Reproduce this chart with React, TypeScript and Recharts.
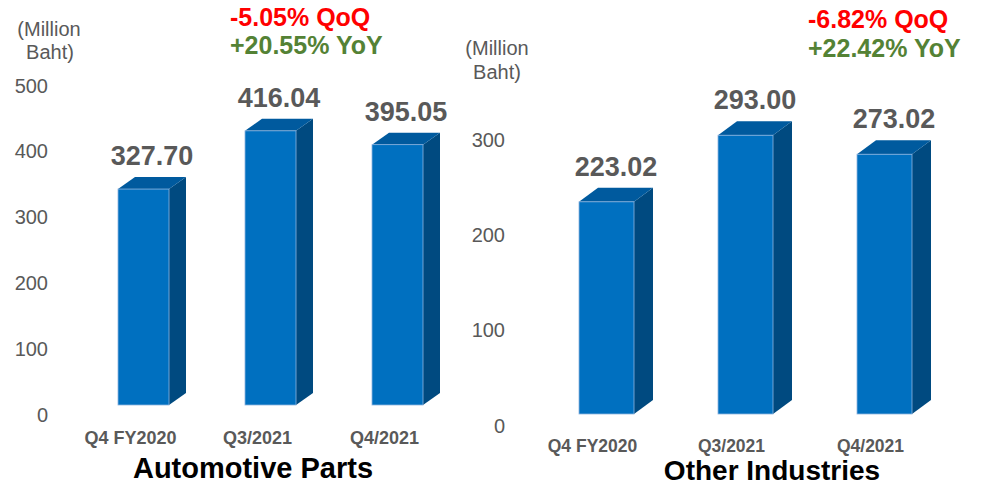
import { BarChart, Bar, XAxis, YAxis, LabelList } from "recharts";

// quarters shown on both panels
const quarters = ["Q4 FY2020", "Q3/2021", "Q4/2021"];
const automotiveParts = [327.7, 416.04, 395.05];
const otherIndustries = [223.02, 293.0, 273.02];
const autoTicks = [0, 100, 200, 300, 400, 500];
const otherTicks = [0, 100, 200, 300];

const autoData = quarters.map((q, i) => ({ quarter: q, value: automotiveParts[i] }));
const otherData = quarters.map((q, i) => ({ quarter: q, value: otherIndustries[i] }));

const FONT = '"Liberation Sans", Arial, Helvetica, sans-serif';
const GREY = "#595959";

const Box3D = (props: any) => {
    const { x, y, width, height, depth, rise } = props;
    if (!height || height <= 0) return null;
    const r = x + width;
    return (
        <g>
            {/* side */}
            <path
                d={`M${r},${y} L${r + depth},${y - rise} L${r + depth},${y + height - rise} L${r},${y + height} Z`}
                fill="#004a80"
            />
            {/* top */}
            <path
                d={`M${x},${y} L${x + depth},${y - rise} L${r + depth},${y - rise} L${r},${y} Z`}
                fill="#005a9e"
            />
            <rect x={x} y={y} width={width} height={height} fill="#0070c0" stroke="#8db3df" strokeWidth={0.8} />
        </g>
    );
};

interface PanelProps {
    data: any[];
    width: number;
    margin: { top: number; right: number; bottom: number; left: number };
    yWidth: number;
    domain: [number, number];
    ticks: number[];
    barSize: number;
    depth: number;
    rise: number;
    yTickShift: number;
    xTickShift: number;
    xTickDy: number;
    xTickSize: number;
}

function Panel({ data, width, margin, yWidth, domain, ticks, barSize, depth, rise, yTickShift, xTickShift, xTickDy, xTickSize }: PanelProps) {
    const YTick = ({ x, y, payload }: any) => (
        <text x={x} y={y + yTickShift} textAnchor="end" dominantBaseline="central" fontSize={20} fill={GREY} fontFamily={FONT}>
            {payload.value}
        </text>
    );
    const XTick = ({ x, y, payload }: any) => (
        <text x={x + xTickShift} y={y + xTickDy} textAnchor="middle" dominantBaseline="central" fontSize={xTickSize} fontWeight="bold" fill={GREY} fontFamily={FONT}>
            {payload.value}
        </text>
    );
    const ValueLabel = ({ x, y, width: w, value }: any) => (
        <text x={x + (w + depth) / 2} y={y - rise - 12} textAnchor="middle" fontSize={27} fontWeight="bold" fill={GREY} fontFamily={FONT}>
            {Number(value).toFixed(2)}
        </text>
    );

    return (
        <BarChart width={width} height={486} data={data} margin={margin}>
            <XAxis dataKey="quarter" axisLine={false} tickLine={false} height={30} tick={<XTick />} interval={0} />
            <YAxis
                width={yWidth}
                domain={domain}
                ticks={ticks}
                axisLine={false}
                tickLine={false}
                tickMargin={26}
                tick={<YTick />}
                interval={0}
            />
            <Bar
                dataKey="value"
                barSize={barSize}
                isAnimationActive={false}
                shape={(p: any) => <Box3D {...p} depth={depth} rise={rise} />}
            >
                <LabelList dataKey="value" content={<ValueLabel />} />
            </Bar>
        </BarChart>
    );
}

export default function App() {
    return (
        <div style={{ position: "absolute", left: 0, top: 0, width: 984, height: 486, background: "#fff", fontFamily: FONT }}>
            <div style={{ position: "absolute", left: 0, top: 0 }}>
                <Panel
                    data={autoData}
                    width={480}
                    margin={{ top: 75.5, right: 19, bottom: 51, left: 0 }}
                    yWidth={80}
                    domain={[0, 500]}
                    ticks={autoTicks}
                    barSize={51}
                    depth={17}
                    rise={12}
                    yTickShift={10}
                    xTickShift={-13}
                    xTickDy={25}
                    xTickSize={18}
                />
            </div>
            <div style={{ position: "absolute", left: 440, top: 0 }}>
                <Panel
                    data={otherData}
                    width={544}
                    margin={{ top: 81, right: 30, bottom: 42, left: 0 }}
                    yWidth={97}
                    domain={[0, 350]}
                    ticks={otherTicks}
                    barSize={55}
                    depth={19}
                    rise={14}
                    yTickShift={11.5}
                    xTickShift={-14}
                    xTickDy={23.5}
                    xTickSize={17.5}
                />
            </div>
            <svg width={984} height={486} style={{ position: "absolute", left: 0, top: 0, pointerEvents: "none" }}>
                <g fontFamily={FONT}>
                    <text x={49} y={29} textAnchor="middle" dominantBaseline="central" fontSize={20} fill={GREY}>(Million</text>
                    <text x={50} y={52} textAnchor="middle" dominantBaseline="central" fontSize={20} fill={GREY}>Baht)</text>
                    <text x={497} y={48} textAnchor="middle" dominantBaseline="central" fontSize={20} fill={GREY}>(Million</text>
                    <text x={497} y={72} textAnchor="middle" dominantBaseline="central" fontSize={20} fill={GREY}>Baht)</text>

                    <text x={230} y={26} fontSize={25} fontWeight="bold" fill="#ff0000">-5.05% QoQ</text>
                    <text x={230} y={54} fontSize={25} fontWeight="bold" fill="#548235">+20.55% YoY</text>
                    <text x={808} y={28} fontSize={25} fontWeight="bold" fill="#ff0000">-6.82% QoQ</text>
                    <text x={808} y={57} fontSize={25} fontWeight="bold" fill="#548235">+22.42% YoY</text>

                    <text x={253} y={478} textAnchor="middle" fontSize={29} fontWeight="bold" fill="#000">Automotive Parts</text>
                    <text x={772} y={480} textAnchor="middle" fontSize={28} fontWeight="bold" fill="#000">Other Industries</text>
                </g>
            </svg>
        </div>
    );
}
